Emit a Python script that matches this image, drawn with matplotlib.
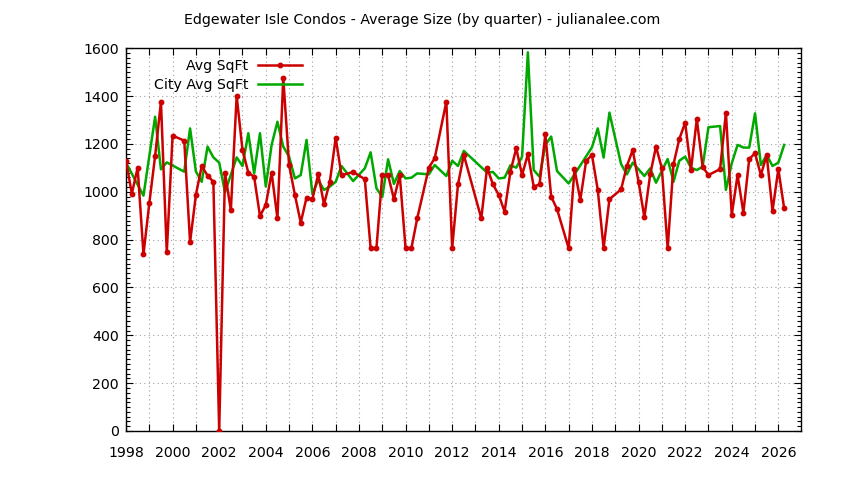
import matplotlib
matplotlib.use('Agg')
import matplotlib.pyplot as plt
from matplotlib.ticker import MultipleLocator, FuncFormatter

plt.rcParams['font.family'] = ['DejaVu Sans']

# dati (trimestrali)
red_quarters = ["1998Q1", "1998Q2", "1998Q3", "1998Q4", "1999Q1", "1999Q2", "1999Q3", "1999Q4",
                "2000Q1", "2000Q3", "2000Q4", "2001Q1", "2001Q2", "2001Q3", "2001Q4",
                "2002Q1", "2002Q2", "2002Q3", "2002Q4", "2003Q1", "2003Q2", "2003Q3", "2003Q4",
                "2004Q1", "2004Q2", "2004Q3", "2004Q4", "2005Q1", "2005Q2", "2005Q3", "2005Q4",
                "2006Q1", "2006Q2", "2006Q3", "2006Q4", "2007Q1", "2007Q2", "2007Q4",
                "2008Q2", "2008Q3", "2008Q4", "2009Q1", "2009Q2", "2009Q3", "2009Q4",
                "2010Q1", "2010Q2", "2010Q3", "2011Q1", "2011Q2", "2011Q4",
                "2012Q1", "2012Q2", "2012Q3", "2013Q2", "2013Q3", "2013Q4",
                "2014Q1", "2014Q2", "2014Q3", "2014Q4", "2015Q1", "2015Q2", "2015Q3", "2015Q4",
                "2016Q1", "2016Q2", "2016Q3", "2017Q1", "2017Q2", "2017Q3", "2017Q4",
                "2018Q1", "2018Q2", "2018Q3", "2018Q4", "2019Q2", "2019Q3", "2019Q4",
                "2020Q1", "2020Q2", "2020Q3", "2020Q4", "2021Q1", "2021Q2", "2021Q3", "2021Q4",
                "2022Q1", "2022Q2", "2022Q3", "2022Q4", "2023Q1", "2023Q3", "2023Q4",
                "2024Q1", "2024Q2", "2024Q3", "2024Q4", "2025Q1", "2025Q2", "2025Q3", "2025Q4",
                "2026Q1", "2026Q2"]
red_sqft = [1130, 992, 1101, 739, 952, 1150, 1376, 747,
            1235, 1214, 789, 987, 1108, 1068, 1042,
            0, 1080, 923, 1401, 1175, 1080, 1063, 899,
            945, 1080, 889, 1477, 1112, 987, 871, 976,
            969, 1073, 948, 1042, 1226, 1069, 1083,
            1053, 764, 764, 1070, 1070, 969, 1070,
            764, 764, 889, 1101, 1140, 1377,
            764, 1031, 1154, 889, 1101, 1031,
            987, 917, 1084, 1182, 1070, 1157, 1022, 1031,
            1240, 980, 928, 764, 1095, 966, 1129,
            1154, 1008, 764, 969, 1010, 1108, 1175,
            1042, 893, 1073, 1189, 1098, 764, 1115, 1221,
            1289, 1091, 1304, 1105, 1070, 1095, 1331,
            903, 1070, 913, 1137, 1161, 1070, 1154, 920,
            1095, 931]

city_quarters = ["1998Q1", "1998Q4", "1999Q2", "1999Q3", "1999Q4", "2000Q3", "2000Q4",
                 "2001Q1", "2001Q2", "2001Q3", "2001Q4", "2002Q1", "2002Q2", "2002Q4",
                 "2003Q1", "2003Q2", "2003Q3", "2003Q4", "2004Q1", "2004Q2", "2004Q3", "2004Q4",
                 "2005Q1", "2005Q2", "2005Q3", "2005Q4", "2006Q1", "2006Q2", "2006Q3", "2006Q4",
                 "2007Q1", "2007Q2", "2007Q4", "2008Q2", "2008Q3", "2008Q4",
                 "2009Q1", "2009Q2", "2009Q3", "2009Q4", "2010Q1", "2010Q2", "2010Q3",
                 "2011Q1", "2011Q2", "2011Q4", "2012Q1", "2012Q2", "2012Q3",
                 "2013Q3", "2013Q4", "2014Q1", "2014Q2", "2014Q3", "2014Q4",
                 "2015Q1", "2015Q2", "2015Q3", "2015Q4", "2016Q1", "2016Q2", "2016Q3",
                 "2017Q1", "2018Q1", "2018Q2", "2018Q3", "2018Q4", "2019Q2", "2019Q3", "2019Q4",
                 "2020Q2", "2020Q3", "2020Q4", "2021Q2", "2021Q3", "2021Q4",
                 "2022Q1", "2022Q2", "2022Q3", "2022Q4", "2023Q1", "2023Q3", "2023Q4",
                 "2024Q1", "2024Q2", "2024Q3", "2024Q4", "2025Q1", "2025Q2", "2025Q3", "2025Q4",
                 "2026Q1", "2026Q2"]
city_sqft = [1122, 984, 1314, 1094, 1123, 1084, 1265,
             1085, 1042, 1189, 1144, 1122, 998, 1144,
             1108, 1245, 1077, 1245, 1022, 1196, 1293, 1189,
             1147, 1056, 1070, 1217, 991, 1049, 1008, 1022,
             1042, 1108, 1045, 1098, 1165, 1015,
             978, 1136, 1033, 1087, 1056, 1059, 1077,
             1073, 1112, 1066, 1130, 1108, 1171,
             1080, 1083, 1056, 1059, 1111, 1101,
             1147, 1583, 1091, 1063, 1196, 1231, 1087,
             1035, 1186, 1265, 1143, 1331, 1116, 1073, 1122,
             1066, 1098, 1038, 1137, 1042, 1130,
             1147, 1101, 1091, 1105, 1270, 1275, 1008,
             1119, 1196, 1185, 1185, 1328, 1112, 1154, 1108,
             1122, 1196]


def q2year(s):
    return int(s[:4]) + (int(s[5]) - 1) / 4.0


red_x = [q2year(s) for s in red_quarters]
city_x = [q2year(s) for s in city_quarters]

fig = plt.figure(figsize=(8.44, 4.80), dpi=100)
ax = fig.add_axes([126 / 844, 1 - 431 / 480, (800.7 - 126) / 844, (431 - 48.3) / 480])

ax.plot(red_x, red_sqft, color='#cc0000', lw=1.8, marker='o', ms=3.2, label='Avg SqFt', zorder=3)
ax.plot(city_x, city_sqft, color='#00a800', lw=1.8, label='City Avg SqFt', zorder=2)

ax.set_xlim(1998, 2026.96)
ax.set_ylim(0, 1600)

ax.xaxis.set_major_locator(MultipleLocator(1))
ax.xaxis.set_major_formatter(FuncFormatter(lambda v, p: '%d' % round(v) if round(v) % 2 == 0 else ''))
ax.yaxis.set_major_locator(MultipleLocator(200))
ax.yaxis.set_minor_locator(MultipleLocator(20))

ax.tick_params(which='both', direction='in', top=True, right=True, labelsize=10.2, colors='black')
ax.tick_params(which='major', length=5, width=0.8, pad=5)
ax.tick_params(axis='x', which='major', pad=10.5)
ax.tick_params(which='minor', length=3, width=0.8)
ax.tick_params(axis='x', which='minor', bottom=False, top=False)

ax.grid(True, which='major', color='#a0a0a0', lw=0.8, linestyle=(0, (1, 3)))
for s in ax.spines.values():
    s.set_linewidth(1.0)

leg = fig.legend(loc='upper right', bbox_to_anchor=(302 / 844, 1 - 59 / 480), frameon=False,
                 markerfirst=False, fontsize=10.2, handlelength=3.1, handletextpad=0.7,
                 labelspacing=0.38, borderpad=0, borderaxespad=0)

fig.text(0.5, 1 - 20 / 480, 'Edgewater Isle Condos - Average Size (by quarter) - julianalee.com',
         ha='center', va='center', fontsize=10.2)

fig.savefig('out.png', dpi=100)
